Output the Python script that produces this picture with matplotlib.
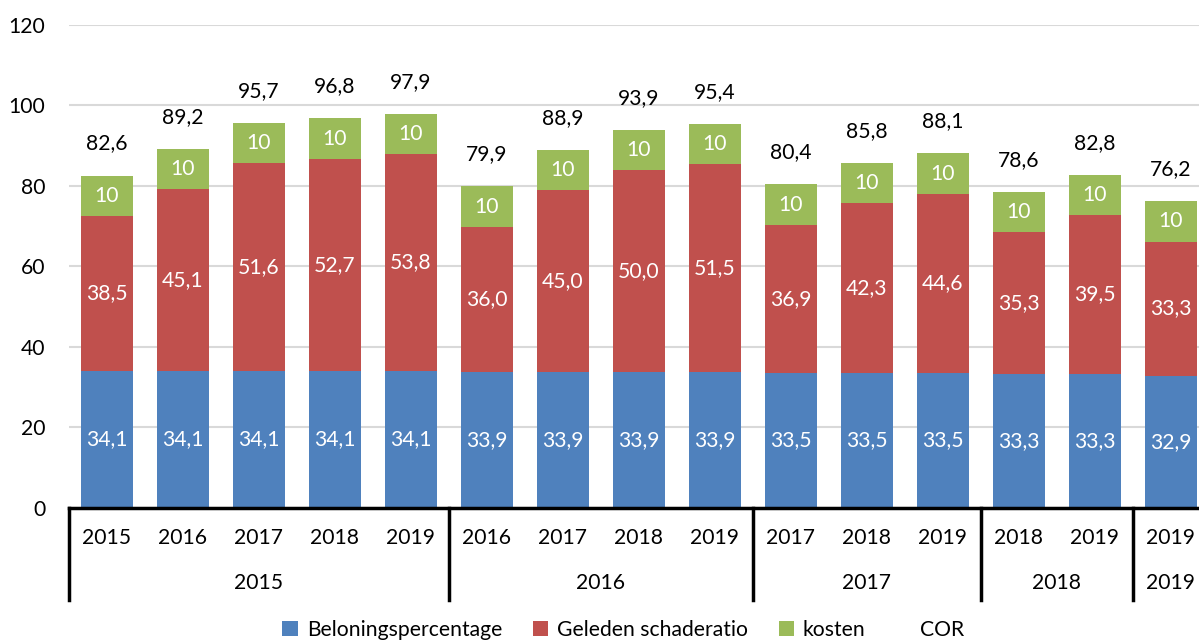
import numpy as np
import matplotlib
matplotlib.use('Agg')
import matplotlib.pyplot as plt
import matplotlib.transforms as mtransforms
from matplotlib.lines import Line2D

plt.rcParams['font.family'] = ['Lato', 'DejaVu Sans']
FS = 15.2
plt.rcParams['font.size'] = FS

# data
sub_labels = ['2015', '2016', '2017', '2018', '2019',
              '2016', '2017', '2018', '2019',
              '2017', '2018', '2019',
              '2018', '2019',
              '2019']
groups = ['2015', '2016', '2017', '2018', '2019']
group_sizes = [5, 4, 3, 2, 1]

beloning = [34.1, 34.1, 34.1, 34.1, 34.1, 33.9, 33.9, 33.9, 33.9, 33.5, 33.5, 33.5, 33.3, 33.3, 32.9]
schade = [38.5, 45.1, 51.6, 52.7, 53.8, 36.0, 45.0, 50.0, 51.5, 36.9, 42.3, 44.6, 35.3, 39.5, 33.3]
kosten = [10, 10, 10, 10, 10, 10, 10, 10, 10, 10, 10, 10, 10, 10, 10]
cor = [82.6, 89.2, 95.7, 96.8, 97.9, 79.9, 88.9, 93.9, 95.4, 80.4, 85.8, 88.1, 78.6, 82.8, 76.2]

c_blue = '#4F81BD'
c_red = '#C0504D'
c_green = '#9BBB59'


def fmt(v):
    return f"{v:.1f}".replace('.', ',')


fig = plt.figure(figsize=(11.99, 6.41), dpi=100)
ax = fig.add_axes([0.0575, 0.2075, 0.9508, 0.7535])

x = np.arange(len(sub_labels))
w = 0.68
b1 = ax.bar(x, beloning, w, color=c_blue, label='Beloningspercentage', zorder=3)
b2 = ax.bar(x, schade, w, bottom=beloning, color=c_red, label='Geleden schaderatio', zorder=3)
bottom3 = np.array(beloning) + np.array(schade)
b3 = ax.bar(x, kosten, w, bottom=bottom3, color=c_green, label='kosten', zorder=3)
cor_line, = ax.plot(x, cor, linestyle='none', label='COR')

ax.bar_label(b1, labels=[fmt(v) for v in beloning], label_type='center', color='white', fontsize=FS)
ax.bar_label(b2, labels=[fmt(v) for v in schade], label_type='center', color='white', fontsize=FS)
ax.bar_label(b3, labels=[f"{v:g}" for v in kosten], label_type='center', color='white', fontsize=FS)

for xi, v in zip(x, cor):
    ax.annotate(fmt(v), (xi, v), xytext=(0, 23), textcoords='offset points',
                ha='center', va='center', fontsize=FS, color='black')

ax.set_ylim(0, 120)
ax.set_xlim(-0.5, len(sub_labels) - 0.5)
ax.set_yticks(np.arange(0, 121, 20))
ax.yaxis.grid(True, color='#D9D9D9', linewidth=1.5, zorder=0)
ax.set_axisbelow(True)
ax.tick_params(axis='y', length=0, pad=17, labelsize=FS)
ax.set_xticks([])
for s in ['top', 'right', 'left']:
    ax.spines[s].set_visible(False)
ax.spines['bottom'].set_linewidth(2.5)
ax.spines['bottom'].set_zorder(4)

# multi-level x axis
trans = mtransforms.blended_transform_factory(ax.transData, ax.transAxes)
for xi, lab in zip(x, sub_labels):
    ax.text(xi, -0.062, lab, transform=trans, ha='center', va='center', fontsize=FS, clip_on=False)

start = 0
bounds = [-0.5]
for g, n in zip(groups, group_sizes):
    mid = start + (n - 1) / 2
    ax.text(mid, -0.155, g, transform=trans, ha='center', va='center', fontsize=FS, clip_on=False)
    start += n
    bounds.append(start - 0.5)
for bx in bounds:
    ax.add_line(Line2D([bx, bx], [0, -0.19], transform=trans, color='black',
                       linewidth=2.5, clip_on=False))

fig.legend([b1, b2, b3, cor_line],
           ['Beloningspercentage', 'Geleden schaderatio', 'kosten', 'COR'],
           loc='center', bbox_to_anchor=(0.52, 1 - 630 / 641), ncol=4,
           frameon=False, fontsize=FS, handlelength=0.75, handleheight=0.75,
           handletextpad=0.4, columnspacing=1.45)

fig.savefig('out.png', dpi=100)
